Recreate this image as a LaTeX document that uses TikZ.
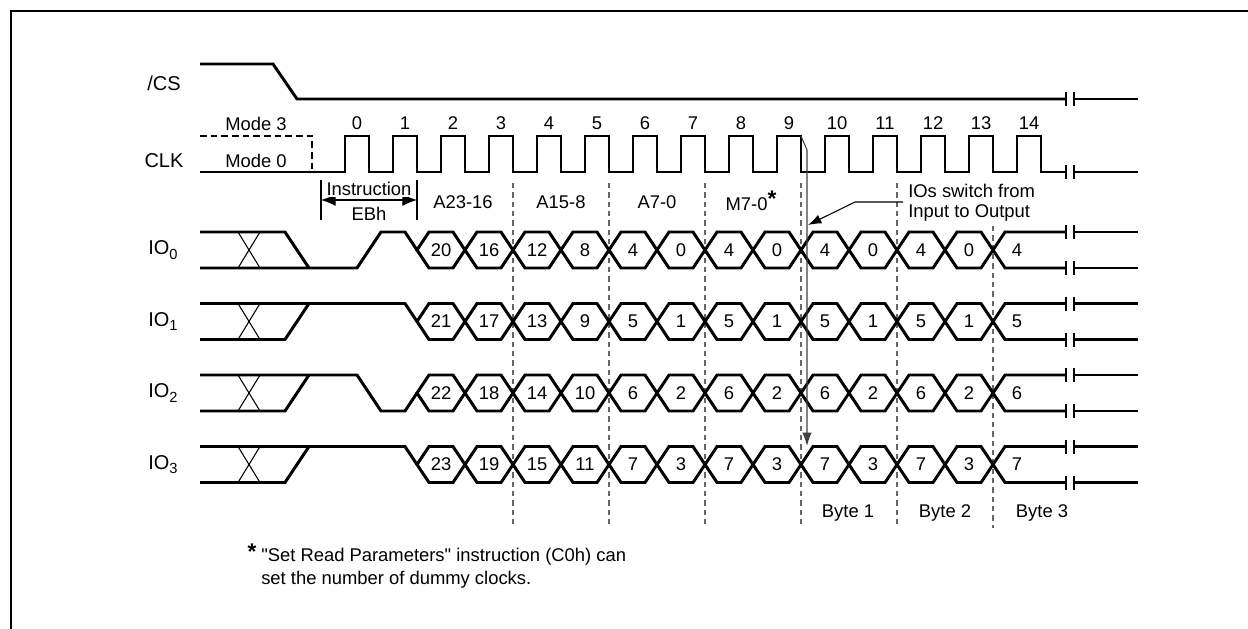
\documentclass[tikz,border=0pt]{standalone}
\usepackage{fontspec}
\setmainfont{Liberation Sans}[Ligatures=TeXOff]
\usetikzlibrary{arrows.meta}
\begin{document}
\begin{tikzpicture}[x=0.75pt,y=-0.75pt,
  sig/.style={line width=2.2pt, line join=miter},
  thinln/.style={line width=0.8pt},
  brk/.style={line width=1pt},
  gridln/.style={line width=0.8pt, black!60, dash pattern=on 4pt off 3pt},
  lbl/.style={font=\fontsize{13.8}{16}\selectfont, inner sep=0pt},
  siglbl/.style={font=\fontsize{15}{18}\selectfont, inner sep=0pt},
  tip/.style={-{Latex[length=10pt,width=7pt]}},
]
\useasboundingbox (0,0) rectangle (1248,628);
% frame
\draw[line width=2.2pt] (11,640) -- (11,11) -- (1260,11);

% ---------- /CS ----------
\node[siglbl] (cslbl) at (164,83) {/CS};
\draw[sig] (200,64) -- (273,64) -- (297,99) -- (1066,99);
\draw[sig] (1074,99) -- (1138,99);
\draw[brk] (1066,92) -- (1066,106) (1074,92) -- (1074,106);

% ---------- CLK ----------
\node[siglbl] (clklbl) at (164,161) {CLK};
\node[lbl] (m3) at (256,124) {Mode 3};
\node[lbl] (m0) at (256,161) {Mode 0};
\draw[sig, dash pattern=on 5pt off 3pt] (200,136) -- (312,136) -- (312,172);
\draw[sig] (200,172) -- (345,172)
  \foreach \k in {0,...,14} { -- (345+48*\k,172) -- (345+48*\k,136) -- (369+48*\k,136) -- (369+48*\k,172) }
  -- (1066,172);
\draw[sig] (1074,172) -- (1138,172);
\draw[brk] (1066,165) -- (1066,179) (1074,165) -- (1074,179);
\foreach \k in {0,...,14} {
  \node[lbl] (cn\k) at (357+48*\k,123) {\k};
}

% ---------- phase labels ----------
\draw[thinln] (321,180) -- (321,220);
\draw[thinln] (417,180) -- (417,220);
\coordinate (insl) at (321,200);
\coordinate (insr) at (417,200);
\draw[thinln, {Latex[length=11pt,width=9pt]}-{Latex[length=11pt,width=9pt]}] (insl) -- (insr);
\node[lbl, fill=white, inner sep=1pt] (instr) at (369,189) {Instruction};
\node[lbl] (ebh) at (369,214) {EBh};
\node[lbl] (a2316) at (463,202) {A23-16};
\node[lbl] (a158) at (561,202) {A15-8};
\node[lbl] (a70) at (657,202) {A7-0};
\node[lbl] (m70) at (751,201) {M7-0\raisebox{0.45ex}{\fontsize{17}{17}\selectfont\bfseries *}};
\node[lbl, anchor=west] (sw1) at (908,191) {IOs switch from};
\node[lbl, anchor=west] (sw2) at (908,213) {Input to Output};

% dashed dividers
\foreach \x in {513,609,705,801,897} {
  \draw[gridln] (\x,183) -- (\x,528);
}
\draw[gridln] (993,226) -- (993,528);

% ---------- IO rows ----------
\foreach \r/\vals/\last in {0/{20,16,12,8,4,0,4,0,4,0,4,0}/4,
                           1/{21,17,13,9,5,1,5,1,5,1,5,1}/5,
                           2/{22,18,14,10,6,2,6,2,6,2,6,2}/6,
                           3/{23,19,15,11,7,3,7,3,7,3,7,3}/7} {
  \pgfmathsetmacro\T{232+71.5*\r}
  \pgfmathsetmacro\B{\T+36}
  \pgfmathsetmacro\M{\T+18}
  \node[siglbl] (io\r) at (163,\M) {IO\raisebox{-0.45ex}{\fontsize{11}{11}\selectfont\r}};
  % don't-care X
  \draw[thinln] (238,\T) -- (260,\B) (238,\B) -- (260,\T);
  \foreach \v [count=\k from 0] in \vals {
    \pgfmathsetmacro\xa{417+48*\k}
    \pgfmathsetmacro\xb{\xa+48}
    \draw[sig] (\xa,\M) -- (\xa+12,\T) -- (\xb-12,\T) -- (\xb,\M) -- (\xb-12,\B) -- (\xa+12,\B) -- cycle;
    \node[lbl] (v\r-\k) at (\xa+24,\M) {\v};
  }
  \draw[sig] (1066,\T) -- (1005,\T) -- (993,\M) -- (1005,\B) -- (1066,\B);
  \node[lbl] (vl\r) at (1017,\M) {\last};
  \draw[sig] (1074,\T) -- (1138,\T) (1074,\B) -- (1138,\B);
  \draw[brk] (1066,\T-7) -- (1066,\T+7) (1074,\T-7) -- (1074,\T+7)
             (1066,\B-7) -- (1066,\B+7) (1074,\B-7) -- (1074,\B+7);
}
% incoming waveforms before the first data crossing
% IO0
\draw[sig] (200,232) -- (285,232) -- (309,268);
\draw[sig] (200,268) -- (357,268) -- (381,232) -- (405,232) -- (417,250);
% IO1
\draw[sig] (200,303.5) -- (405,303.5) -- (417,321.5);
\draw[sig] (200,339.5) -- (285,339.5) -- (309,303.5);
% IO2
\draw[sig] (200,411) -- (285,411) -- (309,375);
\draw[sig] (200,375) -- (357,375) -- (381,411) -- (405,411) -- (417,393);
% IO3
\draw[sig] (200,446.5) -- (405,446.5) -- (417,464.5);
\draw[sig] (200,482.5) -- (285,482.5) -- (309,446.5);

% ---------- switch arrows ----------
\coordinate (c9) at (801,136);
\coordinate (c9b) at (807,150);
\coordinate (io3top) at (807,446);
\draw[thinln, black!75, tip] (c9) -- (c9b) -- (io3top);
\coordinate (p0) at (903,202);
\coordinate (p1) at (855,202);
\coordinate (p2) at (808,225);
\draw[thinln, tip] (p0) -- (p1) -- (p2);

% ---------- bytes ----------
\node[lbl] (b1) at (848,513) {Byte 1};
\node[lbl] (b2) at (945,513) {Byte 2};
\node[lbl] (b3) at (1042,513) {Byte 3};

% ---------- footnote ----------
\node[font=\fontsize{17}{17}\selectfont\bfseries, inner sep=0pt] (star) at (252,552) {*};
\node[lbl, anchor=west] (fn1) at (261,557) {"Set Read Parameters" instruction (C0h) can};
\node[lbl, anchor=west] (fn2) at (261,580) {set the number of dummy clocks.};
\end{tikzpicture}
\end{document}
